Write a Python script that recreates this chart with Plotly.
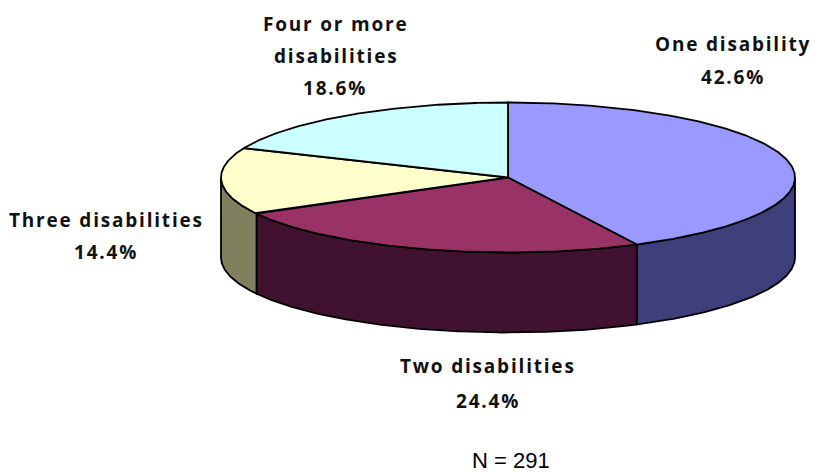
import math
import plotly.graph_objects as go

categories = ["One disability", "Two disabilities", "Three disabilities", "Four or more disabilities"]
values = [42.6, 24.4, 14.4, 18.6]
top_colors = ["#9999FF", "#993366", "#FFFFCC", "#CCFFFF"]
side_colors = ["#3F3F7C", "#401230", "#80805F", "#7F9F9F"]
note = "N = 291"

CX, CY, RX, RY, DEPTH = 508, 177.5, 287, 75, 80
LINE = dict(color="#000000", width=1.8)


def pt(deg, dy=0.0):
    a = math.radians(deg)
    return CX + RX * math.sin(a), CY - RY * math.cos(a) + dy


def arc(a0, a1, dy=0.0):
    n = max(2, int(abs(a1 - a0) * 2))
    return [pt(a0 + (a1 - a0) * i / n, dy) for i in range(n + 1)]


def poly(points, color):
    xs = [p[0] for p in points] + [points[0][0]]
    ys = [p[1] for p in points] + [points[0][1]]
    return go.Scatter(x=xs, y=ys, mode="lines", fill="toself", fillcolor=color,
                      line=LINE, hoverinfo="skip", showlegend=False)


fig = go.Figure()
angles = [0.0]
for v in values:
    angles.append(angles[-1] + v / sum(values) * 360)

# visible side walls: front half of the disc only
for i in range(len(values)):
    a0, a1 = max(angles[i], 90), min(angles[i + 1], 270)
    if a1 > a0:
        fig.add_trace(poly(arc(a0, a1) + arc(a1, a0, DEPTH), side_colors[i]))

# top faces
for i in range(len(values)):
    fig.add_trace(poly([(CX, CY)] + arc(angles[i], angles[i + 1]), top_colors[i]))

FONT = "Open Sans"


def bold(s):
    return f'<span style="letter-spacing:1.8px"><b>{s}</b></span>'


labels = [
    (categories[0], 733, 44),
    (f"{values[0]}%", 733, 77),
    ("Four or more", 335, 24),
    ("disabilities", 336, 56),
    (f"{values[3]}%", 335, 88),
    (categories[2], 106, 220),
    (f"{values[2]}%", 106, 252),
    (categories[1], 488, 366),
    (f"{values[1]}%", 488, 401),
]
for text, x, y in labels:
    fig.add_annotation(x=x, y=y, text=bold(text), showarrow=False, xanchor="center", yanchor="middle",
                       font=dict(family=FONT, size=19, color="#111111"))
fig.add_annotation(x=511, y=460, text=note, showarrow=False, xanchor="center", yanchor="middle",
                   font=dict(family="Liberation Sans", size=22, color="#000000"))

fig.update_layout(
    width=827, height=472, margin=dict(l=0, r=0, t=0, b=0),
    paper_bgcolor="white", plot_bgcolor="white", showlegend=False,
    xaxis=dict(range=[0, 827], visible=False, fixedrange=True),
    yaxis=dict(range=[472, 0], visible=False, fixedrange=True),
)
fig.write_html("out.html", config={"displayModeBar": False},
               post_script="document.body.style.margin='0';")
